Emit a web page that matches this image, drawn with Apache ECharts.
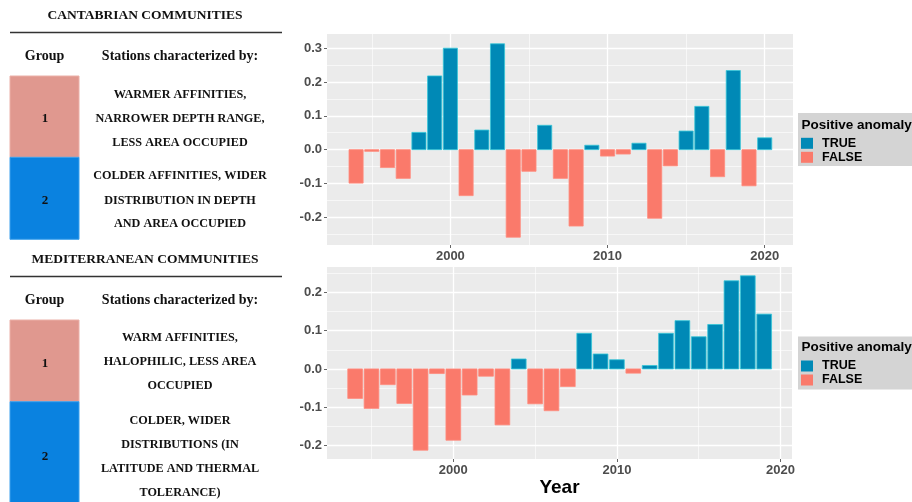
<!DOCTYPE html>
<html>
<head>
<meta charset="utf-8">
<title>Thermal anomaly of Cantabrian and Mediterranean communities</title>
<script src="https://cdn.jsdelivr.net/npm/echarts@6/dist/echarts.min.js"></script>
<style>
  html, body { margin: 0; padding: 0; background: #ffffff; }
  #chart { width: 912px; height: 502px; }
</style>
</head>
<body>
<div id="chart"></div>
<script>
// Years sampled in each region
const cantabrianYears = [1994, 1995, 1996, 1997, 1998, 1999, 2000, 2001, 2002, 2003, 2004, 2005, 2006, 2007,
  2008, 2009, 2010, 2011, 2012, 2013, 2014, 2015, 2016, 2017, 2018, 2019, 2020];
const mediterraneanYears = [1994, 1995, 1996, 1997, 1998, 1999, 2000, 2001, 2002, 2003, 2004, 2005, 2006, 2007,
  2008, 2009, 2010, 2011, 2012, 2013, 2014, 2015, 2016, 2017, 2018, 2019];

// Yearly anomaly values
const cantabrianAnomaly = [-0.099, -0.005, -0.053, -0.085, 0.051, 0.218, 0.300, -0.136, 0.058, 0.313, -0.259,
  -0.064, 0.072, -0.085, -0.226, 0.013, -0.019, -0.013, 0.019, -0.203, -0.048, 0.055, 0.128, -0.080, 0.234,
  -0.107, 0.035];
const mediterraneanAnomaly = [-0.077, -0.103, -0.041, -0.090, -0.212, -0.012, -0.186, -0.068, -0.019, -0.146,
  0.026, -0.091, -0.109, -0.046, 0.093, 0.039, 0.024, -0.011, 0.009, 0.093, 0.126, 0.084, 0.116, 0.230, 0.243,
  0.143];

// Tick labels
const yearTicks = [2000, 2010, 2020];
const yearMinorTicks = [1995, 2005, 2015];
const cantabrianTicks = [-0.2, -0.1, 0.0, 0.1, 0.2, 0.3];
const cantabrianMinorTicks = [-0.25, -0.15, -0.05, 0.05, 0.15, 0.25];
const mediterraneanTicks = [-0.2, -0.1, 0.0, 0.1, 0.2];
const mediterraneanMinorTicks = [-0.15, -0.05, 0.05, 0.15, 0.25];

// Legend categories
const anomalyClasses = ['TRUE', 'FALSE'];

// Side table text
const cantabrianTitle = 'CANTABRIAN COMMUNITIES';
const mediterraneanTitle = 'MEDITERRANEAN COMMUNITIES';
const cantabrianGroup1 = ['WARMER AFFINITIES,', 'NARROWER DEPTH RANGE,', 'LESS AREA OCCUPIED'];
const cantabrianGroup2 = ['COLDER AFFINITIES, WIDER', 'DISTRIBUTION IN DEPTH', 'AND AREA OCCUPIED'];
const mediterraneanGroup1 = ['WARM AFFINITIES,', 'HALOPHILIC, LESS AREA', 'OCCUPIED'];
const mediterraneanGroup2 = ['COLDER, WIDER', 'DISTRIBUTIONS (IN', 'LATITUDE AND THERMAL', 'TOLERANCE)'];

const BLUE = '#0089B6';
const RED = '#FA7A6B';
const TICK_FONT = 'Liberation Sans';
const SERIF = 'Liberation Serif';

function splitBySign(years, values, positive) {
  const out = [];
  years.forEach((y, i) => {
    if ((values[i] > 0) === positive) out.push([y, values[i]]);
  });
  return out;
}

// Bars span 0.9 year, drawn from zero to the value
function renderBar(params, api) {
  const x = api.value(0);
  const v = api.value(1);
  const a = api.coord([x - 0.45, v]);
  const b = api.coord([x + 0.45, 0]);
  return {
    type: 'rect',
    shape: { x: a[0], y: Math.min(a[1], b[1]), width: b[0] - a[0], height: Math.abs(b[1] - a[1]) },
    style: api.style()
  };
}

function majorXAxis(gridIndex, min, max, extra) {
  return Object.assign({
    type: 'value', gridIndex, min, max,
    axisLine: { show: false, onZero: false },
    axisTick: { show: true, length: 3, customValues: yearTicks, lineStyle: { color: '#666', width: 1 } },
    axisLabel: {
      customValues: yearTicks, margin: 5, fontFamily: TICK_FONT, fontWeight: 'bold', fontSize: 13, color: '#4D4D4D',
      formatter: v => String(v)
    },
    splitLine: { show: true, lineStyle: { color: '#FFFFFF', width: 1.3 } }
  }, extra || {});
}
function minorXAxis(gridIndex, min, max) {
  return {
    type: 'value', gridIndex, min, max,
    axisLine: { show: false, onZero: false },
    axisTick: { show: false, customValues: yearMinorTicks },
    axisLabel: { show: false, customValues: yearMinorTicks },
    splitLine: { show: true, lineStyle: { color: '#FFFFFF', width: 0.6 } }
  };
}
function majorYAxis(gridIndex, min, max, ticks) {
  return {
    type: 'value', gridIndex, min, max,
    axisLine: { show: false, onZero: false },
    axisTick: { show: true, length: 3, customValues: ticks, lineStyle: { color: '#666', width: 1 } },
    axisLabel: {
      customValues: ticks, margin: 5, fontFamily: TICK_FONT, fontWeight: 'bold', fontSize: 13, color: '#4D4D4D',
      formatter: v => v.toFixed(1)
    },
    splitLine: { show: true, lineStyle: { color: '#FFFFFF', width: 1.3 } }
  };
}
function minorYAxis(gridIndex, min, max, ticks) {
  return {
    type: 'value', gridIndex, min, max,
    axisLine: { show: false, onZero: false },
    axisTick: { show: false, customValues: ticks },
    axisLabel: { show: false, customValues: ticks },
    splitLine: { show: true, lineStyle: { color: '#FFFFFF', width: 0.6 } }
  };
}

function barSeries(name, xi, yi, data, color, border) {
  return {
    type: 'custom', name, xAxisIndex: xi, yAxisIndex: yi,
    renderItem: renderBar,
    encode: { x: 0, y: 1 },
    data,
    color,
    itemStyle: { color, borderColor: border, borderWidth: 0.8 },
    z: 3,
    silent: true
  };
}

function tableText(text, x, y, size) {
  return {
    type: 'text',
    style: {
      text, x, y, align: 'center', verticalAlign: 'middle',
      font: 'bold ' + size + 'px "' + SERIF + '"', fill: '#111111'
    }
  };
}

function tableBlock(top, title, g1, g2, box1Top, box1Bottom, box2Bottom, g1Rows, g2Rows, num1Y, num2Y) {
  const els = [
    tableText(title, 145, top, 13.5),
    { type: 'line', shape: { x1: 10, y1: top + 16.5, x2: 282, y2: top + 16.5 }, style: { stroke: '#333', lineWidth: 1.5 } },
    tableText('Group', 44.5, top + 40, 14),
    tableText('Stations characterized by:', 180, top + 40, 14),
    { type: 'rect', shape: { x: 10, y: box1Top, width: 69, height: box1Bottom - box1Top }, style: { fill: '#E0988F', stroke: '#EBB0A8', lineWidth: 1 } },
    { type: 'rect', shape: { x: 10, y: box1Bottom, width: 69, height: box2Bottom - box1Bottom }, style: { fill: '#0A82E0', stroke: '#3DA0EC', lineWidth: 1 } },
    tableText('1', 45, num1Y, 13),
    tableText('2', 45, num2Y, 13)
  ];
  g1.forEach((t, i) => els.push(tableText(t, 180, g1Rows[i], 12.2)));
  g2.forEach((t, i) => els.push(tableText(t, 180, g2Rows[i], 12.2)));
  return els;
}

function legendBox(top, titleY) {
  return [
    { type: 'rect', shape: { x: 798, y: top, width: 120, height: 53 }, style: { fill: '#D4D4D4' } },
    {
      type: 'text',
      style: { text: 'Positive anomaly', x: 801.5, y: titleY, verticalAlign: 'middle', font: 'bold 13.5px "' + TICK_FONT + '"', fill: '#000' }
    }
  ];
}

function legendItems(top) {
  return {
    data: anomalyClasses,
    orient: 'vertical', left: 801, top,
    itemWidth: 12, itemHeight: 11, itemGap: 0, padding: 0,
    icon: 'rect', selectedMode: false,
    itemStyle: { borderWidth: 0 },
    textStyle: { fontFamily: TICK_FONT, fontWeight: 'bold', fontSize: 12.5, color: '#000', lineHeight: 14, padding: [0, 0, 0, 4] }
  };
}

const chart = echarts.init(document.getElementById('chart'), null, { renderer: 'canvas' });

const graphics = []
  .concat(tableBlock(16, cantabrianTitle, cantabrianGroup1, cantabrianGroup2, 76, 157.3, 239.3,
    [95, 119, 142.7], [176, 200.5, 224], 119, 200.3))
  .concat(tableBlock(260, mediterraneanTitle, mediterraneanGroup1, mediterraneanGroup2, 320, 401.7, 520,
    [338.3, 362.3, 386], [420.7, 445, 469, 493.3], 363.3, 456.7))
  .concat(legendBox(113, 125))
  .concat(legendBox(336.5, 347.5));

chart.setOption({
  animation: false,
  backgroundColor: '#FFFFFF',
  graphic: { elements: graphics },
  grid: [
    { left: 327, top: 34, width: 466, height: 211, show: true, backgroundColor: '#EBEBEB', borderWidth: 0 },
    { left: 327, top: 267, width: 465, height: 192, show: true, backgroundColor: '#EBEBEB', borderWidth: 0 }
  ],
  xAxis: [
    majorXAxis(0, 1992.15, 2021.8),
    majorXAxis(1, 1992.28, 2020.7, {
      name: 'Year', nameLocation: 'middle', nameGap: 19,
      nameTextStyle: { fontFamily: TICK_FONT, fontWeight: 'bold', fontSize: 19, color: '#000' }
    }),
    minorXAxis(0, 1992.15, 2021.8),
    minorXAxis(1, 1992.28, 2020.7)
  ],
  yAxis: [
    majorYAxis(0, -0.282, 0.342, cantabrianTicks),
    majorYAxis(1, -0.235, 0.266, mediterraneanTicks),
    minorYAxis(0, -0.282, 0.342, cantabrianMinorTicks),
    minorYAxis(1, -0.235, 0.266, mediterraneanMinorTicks)
  ],
  legend: [legendItems(136.3), legendItems(359)],
  series: [
    barSeries('TRUE', 0, 0, splitBySign(cantabrianYears, cantabrianAnomaly, true), BLUE, '#35C6D8'),
    barSeries('FALSE', 0, 0, splitBySign(cantabrianYears, cantabrianAnomaly, false), RED, '#FF8C7E'),
    barSeries('TRUE', 1, 1, splitBySign(mediterraneanYears, mediterraneanAnomaly, true), BLUE, '#35C6D8'),
    barSeries('FALSE', 1, 1, splitBySign(mediterraneanYears, mediterraneanAnomaly, false), RED, '#FF8C7E')
  ]
});
</script>
</body>
</html>
